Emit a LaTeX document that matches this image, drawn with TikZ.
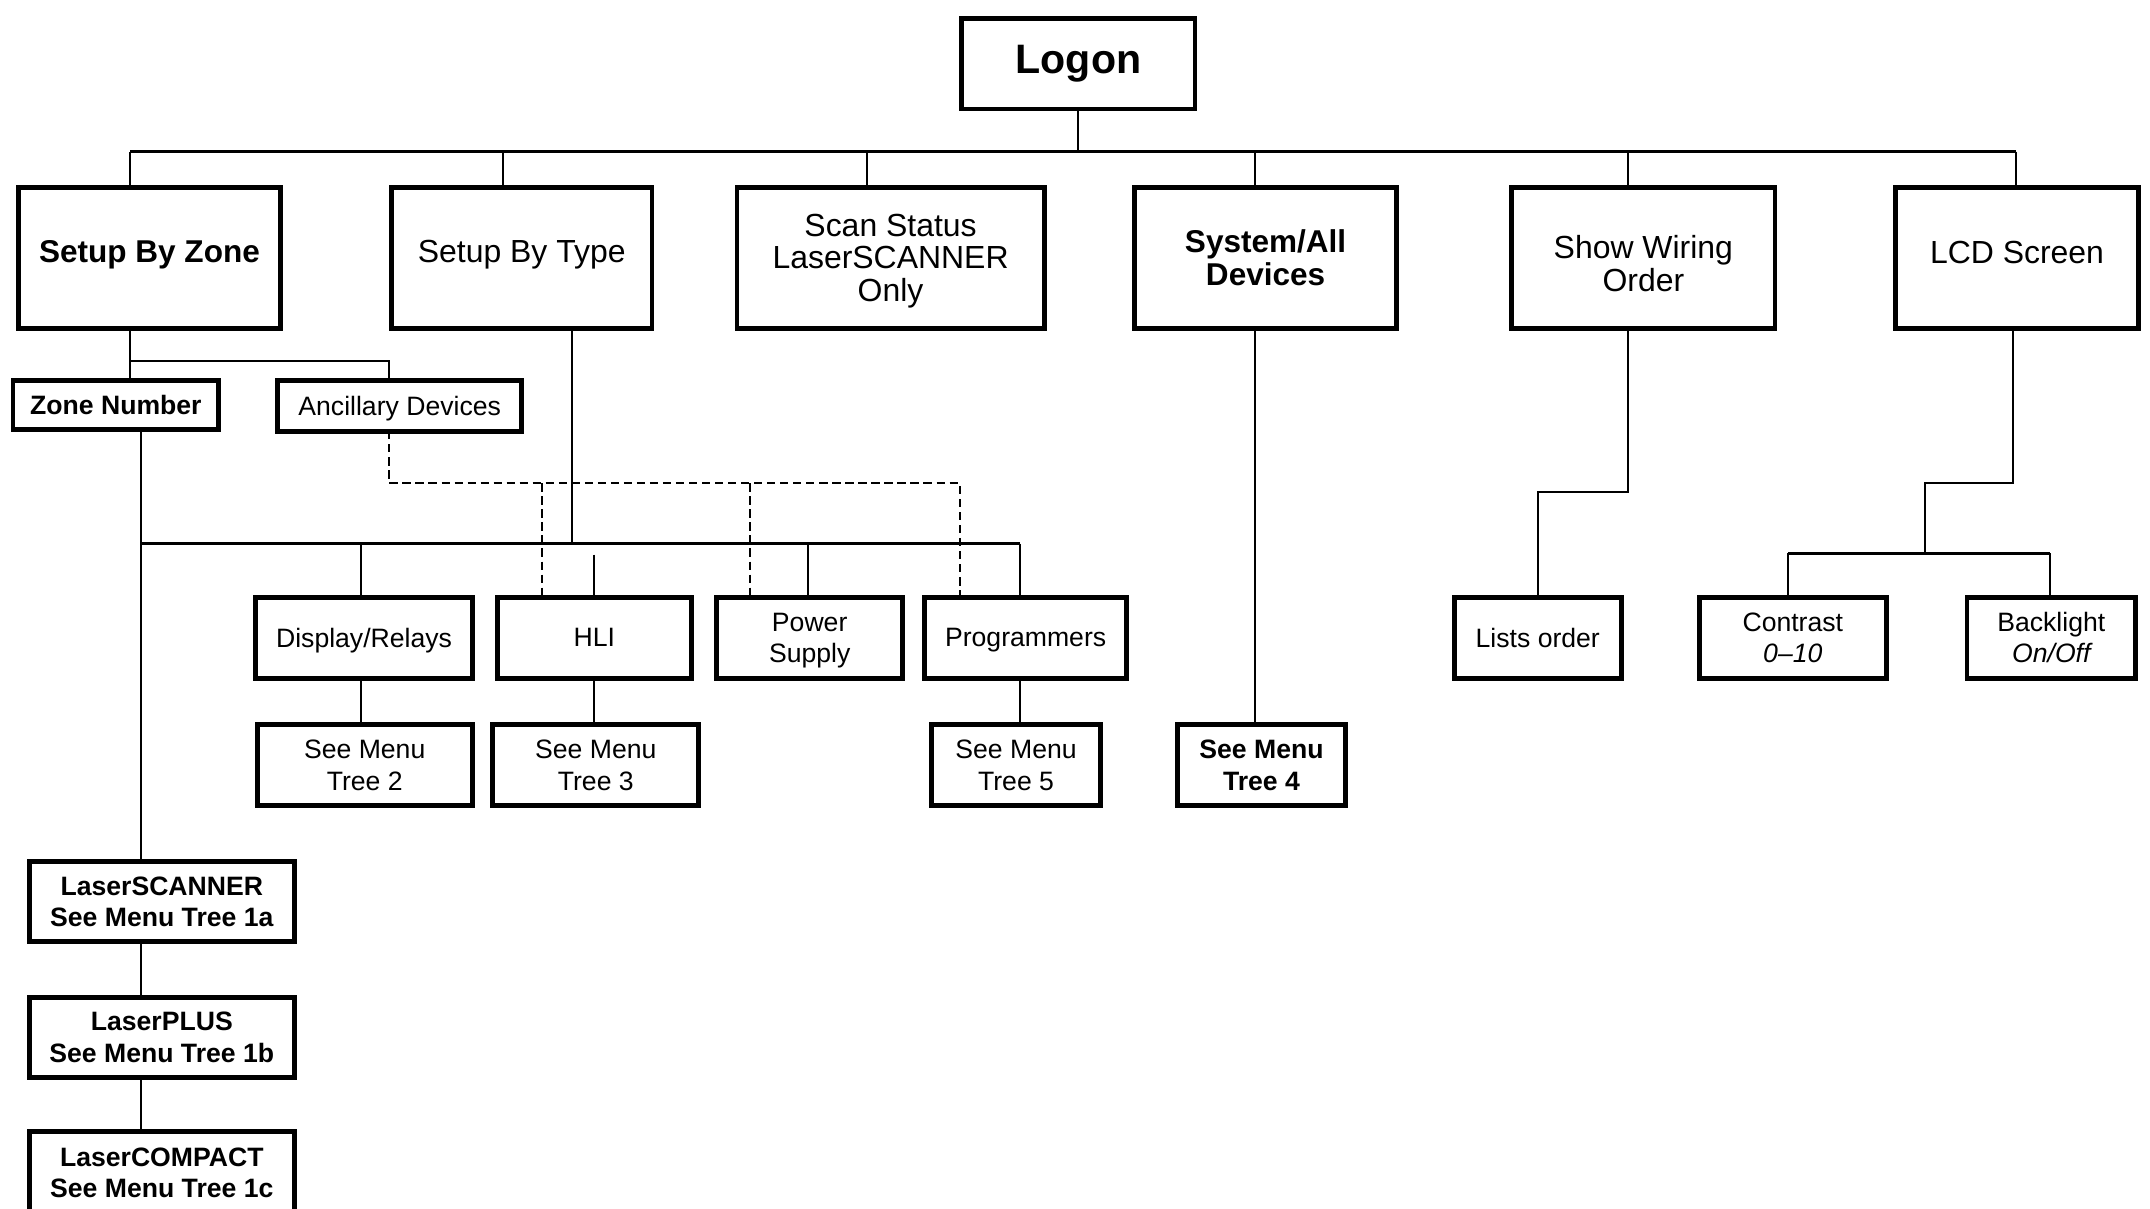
\documentclass[tikz,border=0pt]{standalone}
\usepackage{fontspec}
\setmainfont{Liberation Sans}
\usetikzlibrary{calc}
\newcommand{\upby}[2]{\raisebox{#1}[\height][\depth]{#2}}
\newcommand{\stack}[1]{\begin{tabular}{@{}c@{}}#1\end{tabular}}
\begin{document}
\begin{tikzpicture}[x=1pt,y=-1pt,
  box/.style={draw, line width=3.6pt, inner sep=0pt, outer sep=0pt, align=center},
  big/.style={font=\fontsize{23.3}{23.6}\selectfont},
  bbig/.style={font=\fontsize{23}{23.5}\selectfont\bfseries},
  sm/.style={font=\fontsize{19.4}{22.8}\selectfont, text depth=0pt},
  bsm/.style={font=\fontsize{19.4}{22.8}\selectfont\bfseries, text depth=0pt},
  conn/.style={line width=1.5pt},
  bus/.style={line width=2pt},
  dsh/.style={line width=1.5pt, dash pattern=on 6pt off 3.5pt}]
\useasboundingbox (0,0) rectangle (1568,881);

% top
\node[box, font=\fontsize{30}{32}\selectfont\bfseries, minimum width=170, minimum height=66] (logon) at (786.5,46.5) {Logon};

% level 1
\node[box, bbig, minimum width=191, minimum height=103] (sbz) at (109,188) {\upby{2pt}{Setup By Zone}};
\node[box, big, minimum width=190, minimum height=103] (sbt) at (380.5,188) {\upby{2pt}{Setup By Type}};
\node[box, big, minimum width=224, minimum height=103] (scan) at (649.5,188) {\upby{-3.5pt}{\stack{Scan Status\\LaserSCANNER\\Only}}};
\node[box, bbig, minimum width=191, minimum height=103] (sys) at (923,188) {System/All\\Devices};
\node[box, big, minimum width=192, minimum height=103] (wiring) at (1198.5,188) {\upby{-7.5pt}{\stack{Show Wiring\\Order}}};
\node[box, big, minimum width=177, minimum height=103] (lcd) at (1471,188) {\upby{4pt}{LCD Screen}};

% level 2
\node[box, bsm, minimum width=150, minimum height=36] (zone) at (84.5,295.5) {Zone Number};
\node[box, sm, minimum width=178, minimum height=37] (anc) at (291.5,296) {Ancillary Devices};

% level 3
\node[box, sm, minimum width=158, minimum height=59] (disp) at (265.5,465) {Display/Relays};
\node[box, sm, minimum width=142, minimum height=59] (hli) at (433.5,465) {HLI};
\node[box, sm, minimum width=136, minimum height=59] (power) at (590.5,465) {Power\\Supply};
\node[box, sm, minimum width=147, minimum height=59] (prog) at (748,465) {Programmers};
\node[box, sm, minimum width=122, minimum height=59] (lists) at (1121.5,465) {Lists order};
\node[box, sm, minimum width=136, minimum height=59] (contrast) at (1307.5,465) {Contrast\\\itshape 0--10};
\node[box, sm, minimum width=123, minimum height=59] (backlight) at (1496,465) {Backlight\\\itshape On/Off};

% level 4
\node[box, sm, minimum width=157, minimum height=59] (tree2) at (266,558) {See Menu\\Tree 2};
\node[box, sm, minimum width=150, minimum height=59] (tree3) at (434.5,558) {See Menu\\Tree 3};
\node[box, sm, minimum width=123, minimum height=59] (tree5) at (741,558) {See Menu\\Tree 5};
\node[box, bsm, minimum width=123, minimum height=59] (tree4) at (920,558) {See Menu\\Tree 4};

% bottom left
\node[box, bsm, minimum width=193, minimum height=58] (ls) at (118,657.5) {LaserSCANNER\\See Menu Tree 1a};
\node[box, bsm, minimum width=193, minimum height=58] (lp) at (118,756.5) {LaserPLUS\\See Menu Tree 1b};
\node[box, bsm, minimum width=193, minimum height=60] (lc) at (118,855.5) {LaserCOMPACT\\See Menu Tree 1c};

% ---------- connectors ----------
\coordinate (b0) at ($(logon.south)+(0,31)$);
\coordinate (sbzT) at ($(sbz.north)+(-14,0)$);
\coordinate (sbtT) at ($(sbt.north)+(-13.5,0)$);
\coordinate (scanT) at ($(scan.north)+(-17.5,0)$);
\coordinate (sysT) at ($(sys.north)+(-8,0)$);
\coordinate (wirT) at ($(wiring.north)+(-11.5,0)$);
\coordinate (lcdT) at ($(lcd.north)+(-1,0)$);
\draw[conn] (logon.south) -- (b0);
\draw[bus] (sbzT |- b0) -- (lcdT |- b0);
\foreach \t in {sbzT,sbtT,scanT,sysT,wirT,lcdT}
  \draw[conn] (\t |- b0) -- (\t);

% Setup By Zone subtree
\coordinate (sbzB) at ($(sbz.south)+(-14,0)$);
\coordinate (zoneT) at ($(zone.north)+(10.5,0)$);
\coordinate (ancT) at ($(anc.north)+(-7.5,0)$);
\coordinate (j1) at ($(sbzB)+(0,24)$);
\draw[conn] (sbzB) -- (zoneT);
\draw[conn] (j1) -| (ancT);

% Zone number line and Setup By Type bus
\coordinate (zoneB) at ($(zone.south)+(18.5,0)$);
\coordinate (lsT) at ($(ls.north)+(-15,0)$);
\draw[conn] (zoneB) -- (lsT);
\coordinate (sbtB) at ($(sbt.south)+(36.5,0)$);
\coordinate (b1) at ($(sbtB)+(0,157)$);
\coordinate (dispT) at ($(disp.north)+(-2.5,0)$);
\coordinate (hliT) at ($(hli.north)+(-0.5,0)$);
\coordinate (powT) at ($(power.north)+(-1.5,0)$);
\coordinate (progT) at ($(prog.north)+(-4,0)$);
\draw[conn] (sbtB) -- (b1);
\draw[bus] (zoneB |- b1) -- (progT |- b1);
\draw[conn] (dispT |- b1) -- (dispT);
\draw[conn] ($(hliT |- b1)+(0,8)$) -- (hliT);
\draw[conn] (powT |- b1) -- (powT);
\draw[conn] (progT |- b1) -- (progT);

% dashed ancillary links
\coordinate (ancB) at ($(anc.south)+(-7.5,0)$);
\coordinate (d1) at ($(ancB)+(0,38)$);
\coordinate (hliD) at ($(hli.north)+(-38.5,0)$);
\coordinate (powD) at ($(power.north)+(-43.5,0)$);
\coordinate (progD) at ($(prog.north)+(-48,0)$);
\draw[dsh] (ancB) -- (d1) -| (progD);
\draw[dsh] (hliD |- d1) -- (hliD);
\draw[dsh] (powD |- d1) -- (powD);

% level 3 -> level 4
\draw[conn] ($(disp.south)+(-2.5,0)$) -- ($(tree2.north)+(-3,0)$);
\draw[conn] ($(hli.south)+(-0.5,0)$) -- ($(tree3.north)+(-1.5,0)$);
\draw[conn] ($(prog.south)+(-4,0)$) -- ($(tree5.north)+(3,0)$);
\draw[conn] ($(sys.south)+(-8,0)$) -- ($(tree4.north)+(-5,0)$);

% Show wiring order
\coordinate (wirB) at ($(wiring.south)+(-11.5,0)$);
\coordinate (w1) at ($(wirB)+(0,119)$);
\draw[conn] (wirB) -- (w1) -| (lists.north);

% LCD screen
\coordinate (lcdB) at ($(lcd.south)+(-3,0)$);
\coordinate (l1) at ($(lcdB)+(0,113)$);
\coordinate (l2) at ($(l1)+(-64,0)$);
\coordinate (conT) at ($(contrast.north)+(-3.5,0)$);
\coordinate (bklT) at ($(backlight.north)+(-1,0)$);
\coordinate (b2) at ($(conT)+(0,-32)$);
\draw[conn] (lcdB) -- (l1) -- (l2) -- (l2 |- b2);
\draw[bus] (conT |- b2) -- (bklT |- b2);
\draw[conn] (conT |- b2) -- (conT);
\draw[conn] (bklT |- b2) -- (bklT);

% bottom chain
\draw[conn] ($(ls.south)+(-15,0)$) -- ($(lp.north)+(-15,0)$);
\draw[conn] ($(lp.south)+(-15,0)$) -- ($(lc.north)+(-15,0)$);
\end{tikzpicture}
\end{document}
